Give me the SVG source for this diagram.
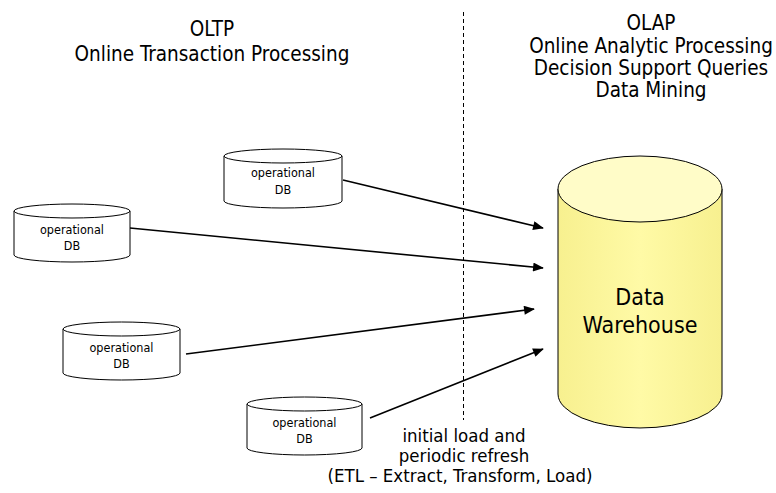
<svg xmlns="http://www.w3.org/2000/svg" width="776" height="493" viewBox="0 0 776 493">
<style>
text{font-family:"DejaVu Sans Condensed","DejaVu Sans","Liberation Sans",sans-serif;font-stretch:condensed;fill:#000;text-anchor:middle}
.t{font-size:20.5px}
.s{font-size:12.5px}
.b{font-size:18.5px}
.w{font-size:23px}
.db{fill:#fff;stroke:#000;stroke-width:1}
.conn line{stroke:#000;stroke-width:1.6;fill:none}
</style>
<defs>
<marker id="ah" viewBox="0 0 12 10" refX="11" refY="5" markerWidth="12" markerHeight="9" markerUnits="userSpaceOnUse" orient="auto">
<path d="M0,0 L12,5 L0,10 Z" fill="#000"/>
</marker>
<linearGradient id="yg" x1="0" y1="0" x2="1" y2="0">
<stop offset="0" stop-color="#f7f08f"/>
<stop offset="0.5" stop-color="#fffaa6"/>
<stop offset="1" stop-color="#f7f08f"/>
</linearGradient>
</defs>
<rect width="776" height="493" fill="#fff"/>
<line id="divider" x1="463.5" y1="12" x2="463.5" y2="420" stroke="#000" stroke-width="1" stroke-dasharray="4,3"/>
<g id="oltp-title">
<text class="t" x="212" y="36">OLTP</text>
<text class="t" x="212" y="61">Online Transaction Processing</text>
</g>
<g id="olap-title">
<text class="t" x="651" y="30">OLAP</text>
<text class="t" x="651" y="53">Online Analytic Processing</text>
<text class="t" x="651" y="75">Decision Support Queries</text>
<text class="t" x="651" y="97">Data Mining</text>
</g>
<g id="db1">
<path class="db" d="M224,156 L224,201 A59,7 0 0 0 342,201 L342,156"/>
<ellipse class="db" cx="283" cy="156" rx="59" ry="7"/>
<text class="s" x="283" y="177">operational</text>
<text class="s" x="283" y="194">DB</text>
</g>
<g id="db2">
<path class="db" d="M14,211 L14,255 A58,7 0 0 0 130,255 L130,211"/>
<ellipse class="db" cx="72" cy="211" rx="58" ry="7"/>
<text class="s" x="72" y="234">operational</text>
<text class="s" x="72" y="250">DB</text>
</g>
<g id="db3">
<path class="db" d="M63,329 L63,373 A58.5,7 0 0 0 180,373 L180,329"/>
<ellipse class="db" cx="121.5" cy="329" rx="58.5" ry="7"/>
<text class="s" x="121.5" y="352">operational</text>
<text class="s" x="121.5" y="368">DB</text>
</g>
<g id="db4">
<path class="db" d="M247,404 L247,448 A57.5,7 0 0 0 362,448 L362,404"/>
<ellipse class="db" cx="304.5" cy="404" rx="57.5" ry="7"/>
<text class="s" x="304.5" y="427">operational</text>
<text class="s" x="304.5" y="443">DB</text>
</g>
<g id="warehouse">
<path d="M558,189 L558,394 A82,34 0 0 0 722,394 L722,189 Z" fill="url(#yg)" stroke="#000" stroke-width="1"/>
<ellipse cx="640" cy="189" rx="82" ry="33" fill="#fffcc8" stroke="#000" stroke-width="1"/>
<text class="w" x="640" y="305">Data</text>
<text class="w" x="640" y="333">Warehouse</text>
</g>
<g class="conn" id="connectors">
<line x1="343" y1="180" x2="543" y2="228" marker-end="url(#ah)"/>
<line x1="130" y1="228" x2="543" y2="268" marker-end="url(#ah)"/>
<line x1="186" y1="354" x2="534" y2="309" marker-end="url(#ah)"/>
<line x1="370" y1="418" x2="543" y2="349" marker-end="url(#ah)"/>
</g>
<g id="etl-label">
<text class="b" x="464" y="442">initial load and</text>
<text class="b" x="464" y="462">periodic refresh</text>
<text class="b" x="460" y="482">(ETL – Extract, Transform, Load)</text>
</g>
</svg>
